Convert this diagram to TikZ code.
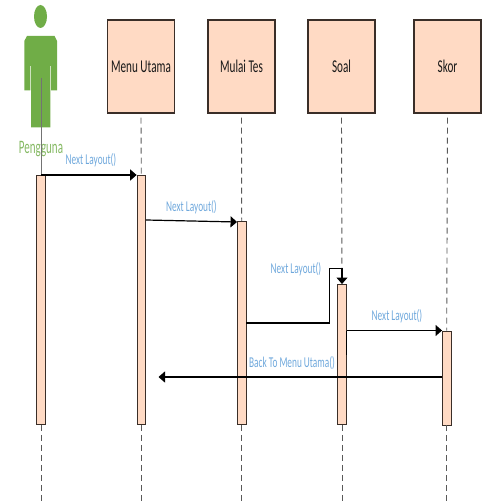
\documentclass[tikz,border=0pt]{standalone}
\usepackage{fontspec}
\setmainfont{Carlito}
\newfontfamily\nar[FakeStretch=0.62]{Carlito}
\newfontfamily\narr[FakeStretch=0.58]{Carlito}
\definecolor{peach}{HTML}{FFDAC4}
\definecolor{edge}{HTML}{3A2E28}
\definecolor{actgreen}{HTML}{70AD47}
\definecolor{lblue}{HTML}{6FA8DC}
\usetikzlibrary{arrows.meta}
\tikzset{
  objbox/.style={draw=edge,line width=1.1pt,fill=peach,minimum width=67pt,minimum height=93pt,inner sep=0pt,font=\nar\fontsize{18}{18}\selectfont,text=black!90},
  actbar/.style={draw=edge,line width=0.8pt,fill=peach,minimum width=8.5pt,inner sep=0pt,anchor=north},
  life/.style={draw=black!65,line width=0.9pt,dash pattern=on 6pt off 4pt},
  msg/.style={draw=black,line width=1.2pt,-{Triangle[length=6.5pt,width=11pt]}},
  msglabel/.style={font=\nar\fontsize{15}{15}\selectfont,text=lblue,inner sep=0pt},
}
\begin{document}
\begin{tikzpicture}[x=1pt,y=-1pt]
\useasboundingbox (0,0) rectangle (489,502);
% boxes
\node[objbox] (menu) at (141,66.5) {Menu Utama};
\node[objbox] (mulai) at (241.5,66.5) {Mulai Tes};
\node[objbox] (soal) at (341.5,66.5) {Soal};
\node[objbox] (skor) at (447.5,66.5) {Skor};
% actor
\fill[actgreen] (40.5,16.5) ellipse [x radius=6.5,y radius=11.5];
\fill[actgreen] (27,36) -- (54.5,36) -- (57,41) -- (57,90.5) -- (51,90.5) -- (51,66) -- (50.4,66) -- (50.4,127.5)
  -- (31,127.5) -- (31,66) -- (30.4,66) -- (30.4,90.5) -- (24.3,90.5) -- (24.3,41) -- cycle;
\node[font=\narr\fontsize{19}{19}\selectfont,text=actgreen!85!white,inner sep=0pt] (pengguna) at (41,149) {Pengguna};
% activation bars
\node[actbar,minimum height=249pt] (a0) at (41,175) {};
\node[actbar,minimum height=249pt] (a1) at (141.3,175) {};
\node[actbar,minimum height=203pt] (a2) at (241.7,221) {};
\node[actbar,minimum height=140pt] (a3) at (342,284) {};
\node[actbar,minimum height=94pt] (a4) at (446.7,330.5) {};
% lifelines
\draw[draw=black!55,line width=0.8pt] (41,78) -- (a0.north);
\draw[life] (menu.south)++(0,4) -- (a1.north);
\draw[life] (mulai.south)++(0,4) -- (a2.north);
\draw[life] (soal.south)++(0,4) -- (a3.north);
\draw[life] (skor.south)++(0,4) -- (a4.north);
\coordinate (e0) at (41,502);
\coordinate (e1) at (141.3,502);
\coordinate (e2) at (241.7,502);
\coordinate (e3) at (342,502);
\coordinate (e4) at (446.7,502);
\draw[life] (a0.south) -- (e0);
\draw[life] (a1.south) -- (e1);
\draw[life] (a2.south) -- (e2);
\draw[life] (a3.south) -- (e3);
\draw[life] (a4.south) -- (e4);
% messages
\draw[msg] (a0.north) -- (a1.north west);
\coordinate (m1) at (a1.east |- 0,220);
\coordinate (m2) at (a2.west |- 0,222);
\draw[msg] (m1) -- (m2);
\coordinate (m3) at (a2.east |- 0,323);
\draw[msg] (m3) -- (329.5,323) -- (329.5,268.5) -- (342,268.5) -- (a3.north);
\draw[draw=black,line width=1.1pt] (a3.east |- a4.north) -- ++(0,24);
\draw[msg] (a3.east |- a4.north) -- (a4.north west);
\coordinate (r0) at (a4.west |- 0,377);
\coordinate (r1) at (158.5,377);
\draw[msg] (r0) -- (r1);
% labels
\node[msglabel] (l1) at (91,160) {Next Layout()};
\node[msglabel] (l2) at (191.5,207) {Next Layout()};
\node[msglabel] (l3) at (296,269) {Next Layout()};
\node[msglabel] (l4) at (397,316) {Next Layout()};
\node[msglabel] (l5) at (292,363) {Back To Menu Utama()};
\end{tikzpicture}
\end{document}
